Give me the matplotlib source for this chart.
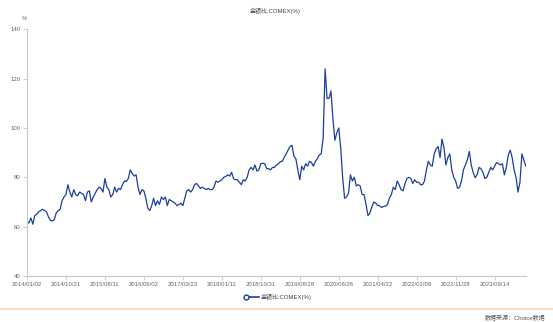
import numpy as np
import matplotlib.pyplot as plt

plt.rcParams['font.family'] = ['Liberation Sans', 'Noto Sans CJK SC', 'DejaVu Sans']

# 金银比 series, one value per 10 trading days
ratio = [
    62, 61.5, 63.5, 61, 64.5, 65, 66, 66.5, 67, 66.5,
    66, 64, 62.5, 62.3, 62.8, 65.5, 66.5, 67, 70.5, 72,
    73, 77, 74, 72, 75, 73, 72.5, 74, 73.5, 73,
    70.5, 74, 74.5, 70, 72, 73.5, 75, 76, 75.5, 74,
    79.5, 76, 75, 72, 73, 76, 74, 75.5, 75, 77,
    78.5, 78.3, 79.5, 83, 81.5, 80.5, 81, 76, 73, 75,
    74.5, 71.5, 67.5, 66.5, 68.5, 71.5, 68.5, 70.5, 69, 72,
    71, 72, 68.5, 71, 70.5, 70, 69.5, 68.5, 69, 69.5,
    68.5, 71.5, 74.5, 75, 74, 75, 77, 77.5, 76.5, 75.5,
    76, 75.5, 75, 75.5, 75, 75, 76, 78.5, 78, 78.5,
    79, 80, 80.3, 81, 80.5, 82, 79.5, 79, 79, 78,
    77, 79, 78.5, 80, 83, 84, 83, 85, 82.5, 83,
    85.5, 85.7, 85.5, 83.5, 83.5, 83, 84, 84, 85, 85.5,
    86.3, 86.5, 88, 89.5, 91, 92.5, 93, 88.5, 87.5, 83,
    79, 84.5, 83, 85.5, 84.5, 86.5, 86, 84.5, 86.5, 87.5,
    89, 89.5, 96, 124, 112, 112, 115, 104, 95, 98,
    100, 92, 80, 71.5, 72, 73.5, 81, 78.5, 80, 76.5,
    77, 76.5, 73, 73, 69, 64.5, 65.5, 68, 70, 69.5,
    68.5, 68.5, 67.7, 68.2, 68.3, 69, 71.5, 73, 76, 75,
    78.5, 77, 75, 74.5, 77.5, 79.5, 80, 79.5, 77.5, 79,
    78, 78, 77, 77, 78.5, 83, 86.5, 85, 84.5, 89.5,
    91.5, 92.5, 88, 95.5, 92, 85, 88, 89.5, 83, 80,
    78.5, 75.5, 76, 78.5, 83, 85, 87, 90.5, 85, 82,
    79.8, 81, 84, 83.5, 82, 79.5, 80, 82, 84, 83,
    84.5, 86, 85.5, 85, 85.5, 81, 84, 89, 91, 88,
    83, 80, 74, 78, 89.5, 87, 84.5,
]
tick_labels = ['2014/01/02', '2014/10/21', '2015/08/11', '2016/06/02', '2017/03/23',
               '2018/01/11', '2018/10/31', '2019/08/28', '2020/06/26', '2021/04/22',
               '2022/02/09', '2022/11/28', '2023/09/14']
y_ticks = [40, 60, 80, 100, 120, 140]

line_color = '#1b3f9c'
axis_color = '#c8c8c8'
text_color = '#666666'

fig = plt.figure(figsize=(5.53, 3.22), dpi=100)
ax = fig.add_axes([0.0488, 0.143, 0.902, 0.766])

x = np.arange(len(ratio))
ax.plot(x, ratio, color=line_color, lw=0.9)

ax.set_xlim(0, len(ratio) - 1)
ax.set_ylim(40, 140)
ax.set_yticks(y_ticks)
ax.set_xticks(np.arange(len(tick_labels)) * 20)
ax.set_xticklabels(tick_labels)

for s in ['top', 'right']:
    ax.spines[s].set_visible(False)
for s in ['left', 'bottom']:
    ax.spines[s].set_color(axis_color)
    ax.spines[s].set_linewidth(0.8)
ax.tick_params(axis='both', colors=axis_color, length=3, width=0.6,
               labelsize=4.3, labelcolor=text_color, pad=1.5)

fig.text(0.044, 0.941, '%', fontsize=4.3, color=text_color, ha='center', va='center')
fig.text(0.497, 0.966, '金银比:COMEX(%)', fontsize=4.3, color='#444444',
         ha='center', va='center')

# legend below the axis
fig.lines.append(plt.Line2D([0.445, 0.468], [0.077, 0.077], transform=fig.transFigure,
                            color=line_color, lw=1.2, marker='o', markersize=3.5,
                            markerfacecolor='white', markeredgewidth=1.0,
                            markevery=[0]))
fig.text(0.472, 0.077, '金银比:COMEX(%)', fontsize=4.3, color='#444444',
         ha='left', va='center')

fig.lines.append(plt.Line2D([0, 1], [0.039, 0.039], transform=fig.transFigure,
                            color='#fcdcc0', lw=1.5))
fig.text(0.986, 0.012, '数据来源：Choice数据', fontsize=4.3, color='#555555',
         ha='right', va='center')

fig.savefig('out.png', dpi=100)
